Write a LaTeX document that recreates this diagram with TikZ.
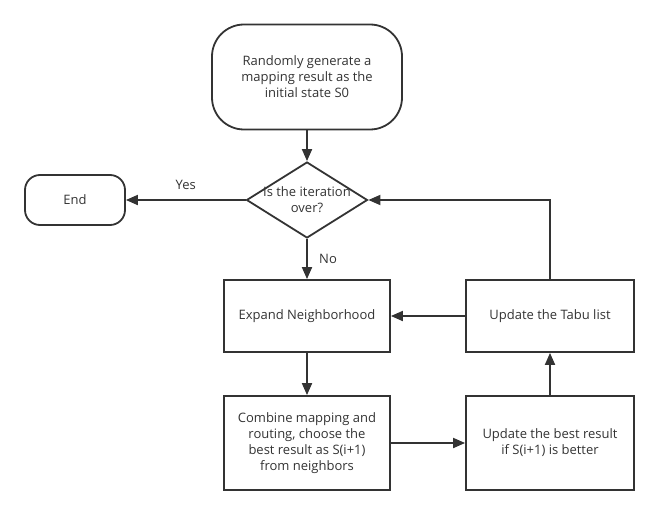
\documentclass[tikz,border=0pt]{standalone}
\usepackage{fontspec}
\setmainfont{Open Sans}
\usetikzlibrary{arrows,arrows.meta,shapes.geometric}
\definecolor{ink}{HTML}{333333}

\begin{document}
\begin{tikzpicture}[x=1pt,y=-1pt,
    box/.style={draw=ink,line width=1.8pt,minimum width=166pt,minimum height=72pt,text=ink,align=center,font=\fontsize{13}{16}\selectfont},
    term/.style={box,rounded corners=32pt},
    txt/.style={text=ink,align=center,font=\fontsize{13}{16}\selectfont},
    line/.style={draw=ink,line width=1.8pt,-{Triangle[length=12pt,width=10pt]}}]
  \useasboundingbox (0,0) rectangle (658,516);
  \node[term,minimum width=190pt,minimum height=105pt](start)at(307,77){Randomly generate a\\mapping result as the\\initial state S0};
  \node[diamond,draw=ink,line width=1.8pt,inner sep=0pt,minimum width=121pt,minimum height=76pt,aspect=1.6](test)at(307,200){};
  \node[txt]at(test){Is the iteration\\over?};
  \node[term,rounded corners=15pt,minimum width=100pt,minimum height=50pt](end)at(75,200){End};
  \node[box](expand)at(307,316){Expand Neighborhood};
  \node[box,minimum width=168pt](tabu)at(550,316){Update the Tabu list};
  \node[box,minimum height=94pt](combine)at(307,443){Combine mapping and\\routing, choose the\\best result as S(i+1)\\from neighbors};
  \node[box,minimum width=168pt,minimum height=94pt](best)at(550,443){Update the best result\\if S(i+1) is better};
  \draw[line](start)--(test);
  \draw[line](test)--node[txt,above,yshift=6pt]{Yes}(end);
  \draw[line](test)--node[txt,right,xshift=8pt]{No}(expand);
  \draw[line](expand)--(combine);
  \draw[line](combine)--(best);
  \draw[line](best)--(tabu);
  \draw[line](tabu)--(expand);
  \draw[line](tabu.north)|-(test.east);
\end{tikzpicture}
\end{document}
